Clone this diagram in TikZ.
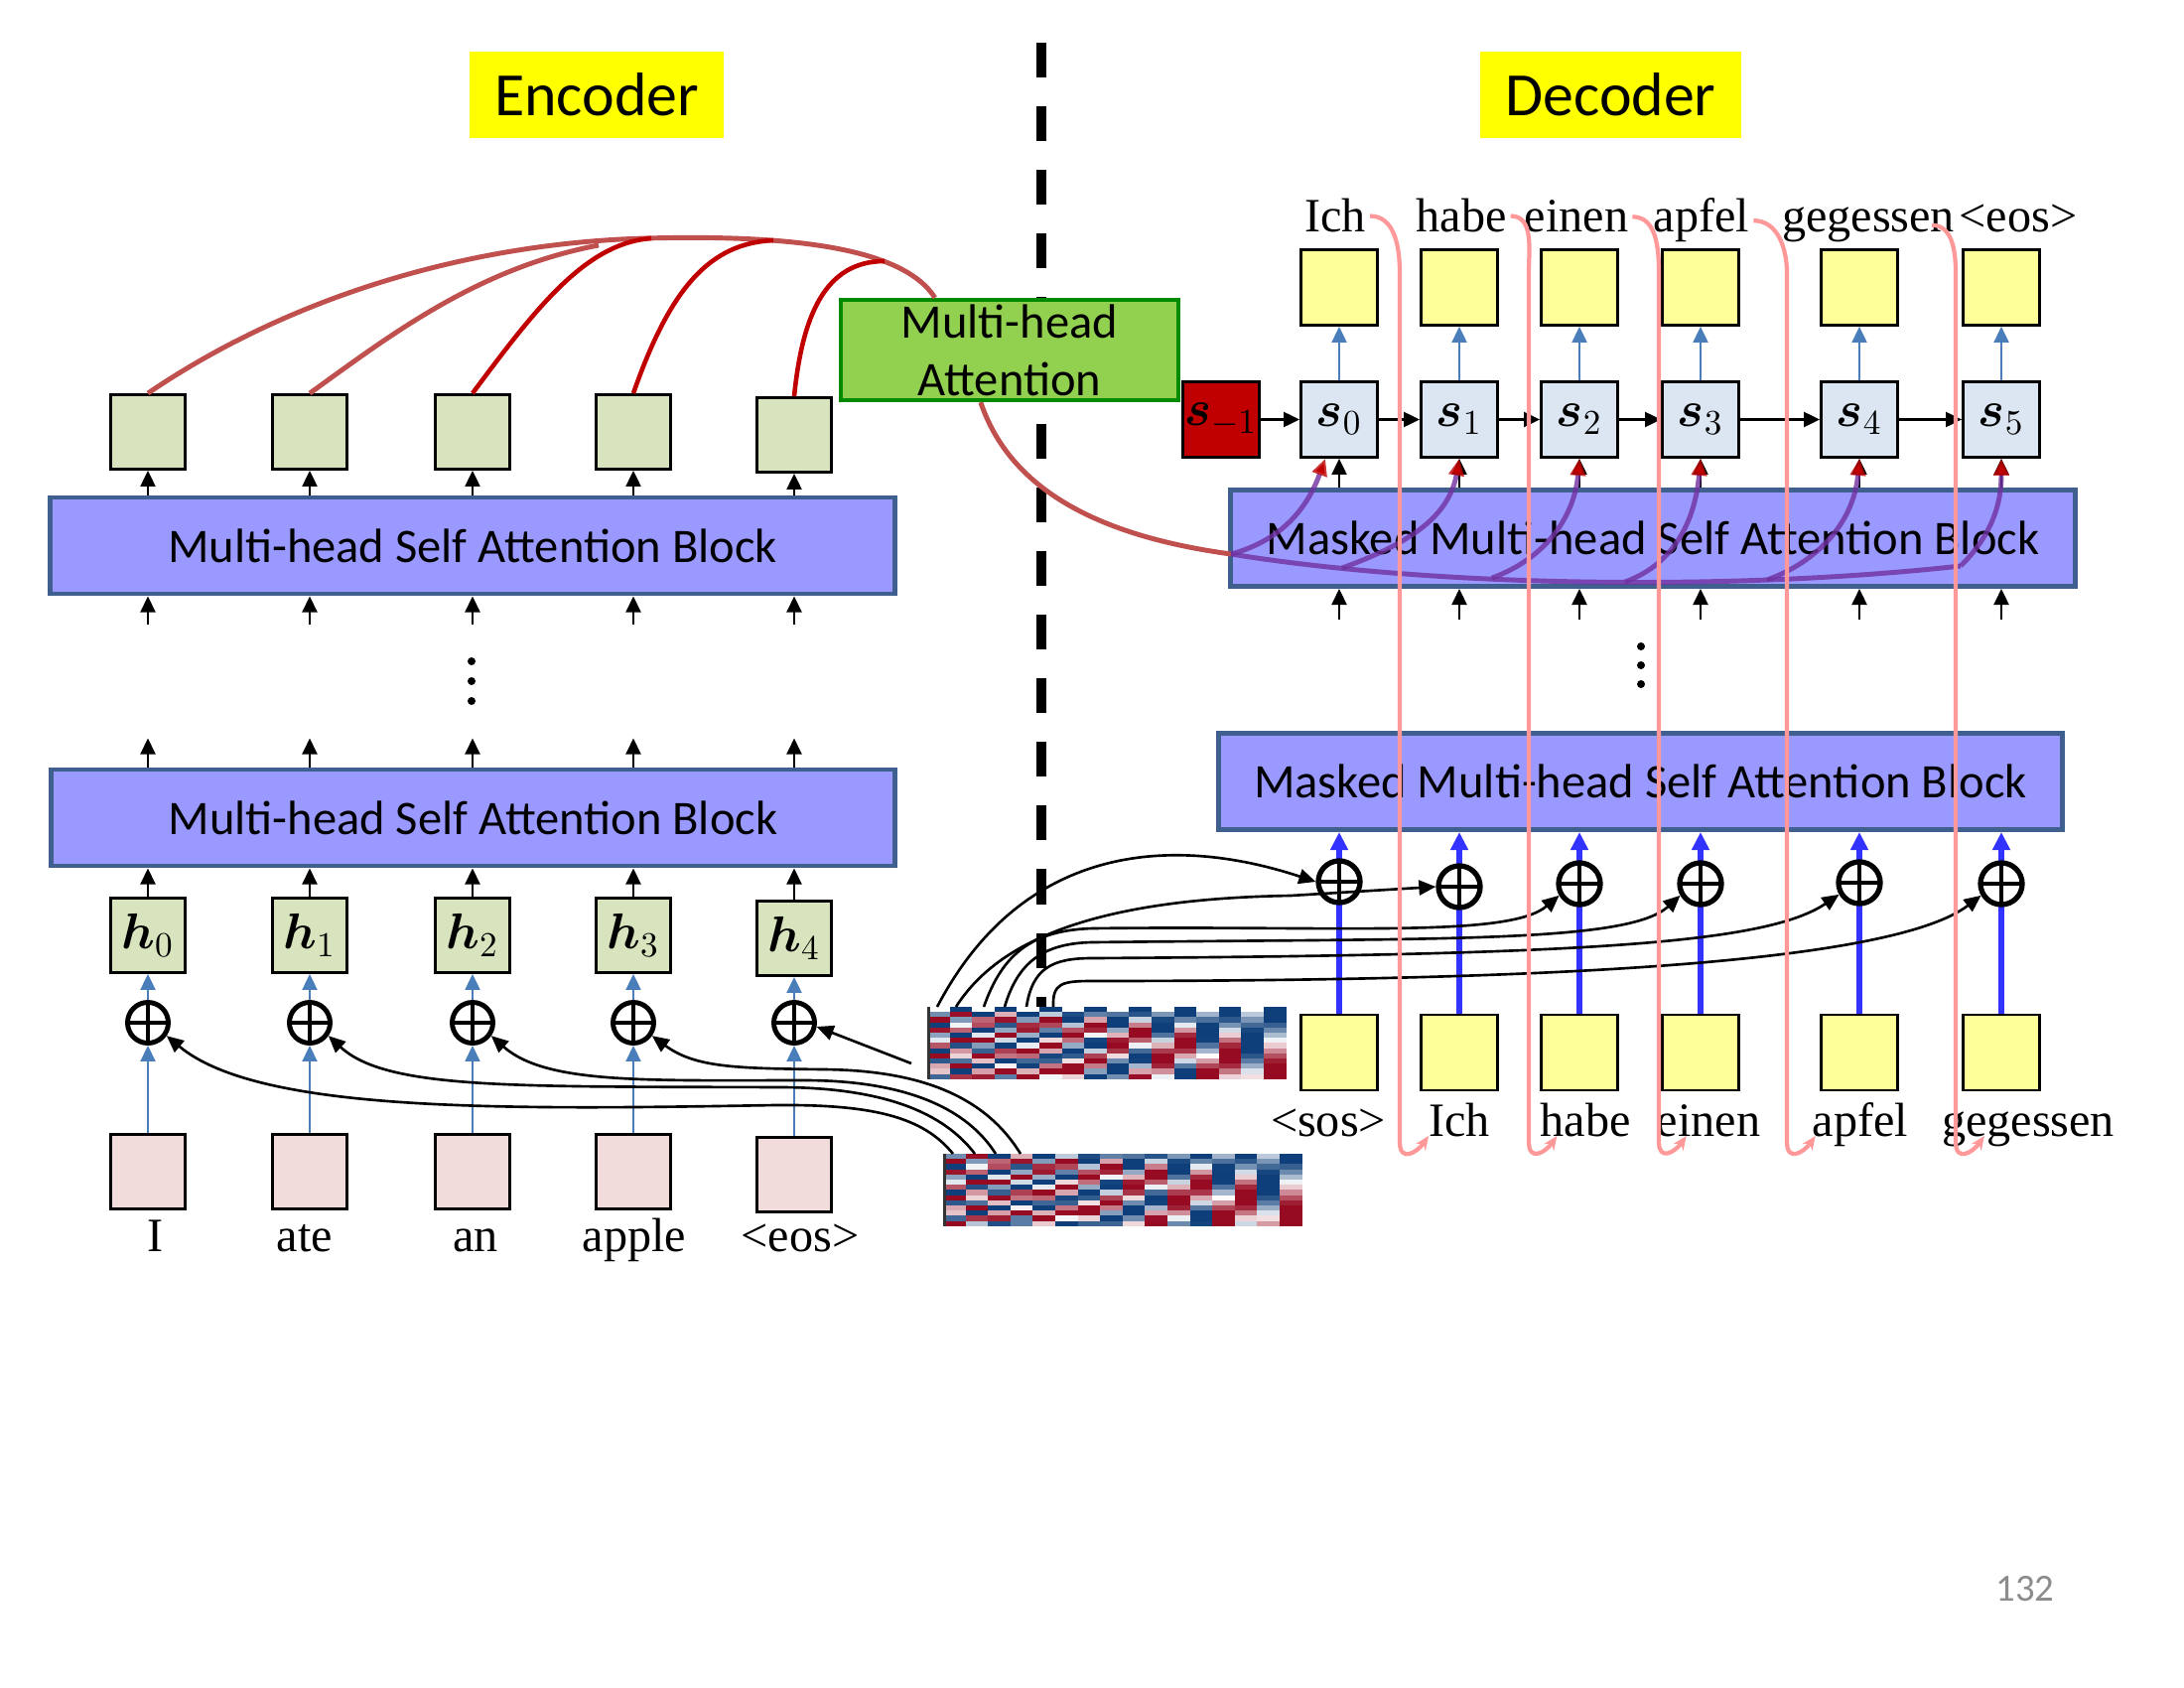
\documentclass[tikz,border=0pt]{standalone}
\usepackage{amsmath}
\usepackage{fontspec}
\usepackage{tikz}
\usepackage{xcolor}
\usetikzlibrary{arrows.meta}
\setmainfont{Liberation Serif}
\newfontfamily\calibri{Carlito}

\definecolor{titleyellow}{HTML}{FFFF00}
\definecolor{blockfill}{HTML}{9999FF}
\definecolor{blockline}{HTML}{3F5F8F}
\definecolor{encgreen}{HTML}{D7E4BD}
\definecolor{wordpink}{HTML}{F2DCDB}
\definecolor{decyellow}{HTML}{FFFF99}
\definecolor{stateblue}{HTML}{DCE6F2}
\definecolor{statered}{HTML}{C00000}
\definecolor{mhafill}{HTML}{92D050}
\definecolor{mhaline}{HTML}{008A00}
\definecolor{arcred}{HTML}{C0504D}
\definecolor{brightred}{HTML}{C00000}
\definecolor{arcpurple}{HTML}{7030A0}
\definecolor{arrowblue}{HTML}{4A7EBB}
\definecolor{pushblue}{HTML}{3333FF}
\definecolor{hookpink}{HTML}{FF9999}
\definecolor{pered}{HTML}{960A22}
\definecolor{peblue}{HTML}{0E3F7A}
\definecolor{pagegray}{HTML}{8C8C8C}

\begin{document}
\begin{tikzpicture}[x=0.01cm, y=0.01cm,
  title/.style={fill=titleyellow, minimum width=2.56cm, minimum height=0.87cm, font=\calibri\fontsize{17.6}{20}\selectfont},
  block/.style={draw=blockline, line width=1.4pt, fill=blockfill, minimum width=8.5cm, minimum height=0.97cm, font=\calibri\fontsize{13.8}{16}\selectfont},
  mhabox/.style={draw=mhaline, line width=1.2pt, fill=mhafill, minimum width=3.4cm, minimum height=1.01cm, inner sep=0pt, align=center, font=\calibri\fontsize{13.8}{16.5}\selectfont},
  encbox/.style={draw, line width=0.8pt, fill=encgreen, minimum width=0.75cm, minimum height=0.75cm, inner sep=0pt, font=\fontsize{14}{16}\selectfont},
  wordbox/.style={encbox, fill=wordpink},
  decbox/.style={draw, line width=0.8pt, fill=decyellow, minimum width=0.77cm, minimum height=0.76cm, inner sep=0pt, font=\fontsize{14}{16}\selectfont},
  statebox/.style={decbox, fill=stateblue},
  oplus/.style={circle, draw, fill=white, line width=1.4pt, minimum size=0.41cm, inner sep=0pt,
    path picture={\draw[line width=1.1pt] (path picture bounding box.north) -- (path picture bounding box.south) (path picture bounding box.west) -- (path picture bounding box.east);}},
  oplusd/.style={oplus, minimum size=0.42cm, line width=1.5pt},
  word/.style={anchor=base, inner sep=1pt, font=\fontsize{13.7}{16}\selectfont},
  divider/.style={line width=2.6pt, dash pattern=on 0.35cm off 0.29cm},
  arr/.style={-{Triangle[length=0.16cm,width=0.15cm]}, line width=0.6pt},
  thinblue/.style={-{Triangle[length=0.16cm,width=0.15cm]}, draw=arrowblue, line width=0.6pt},
  pushline/.style={-{Triangle[length=0.18cm,width=0.17cm]}, draw=pushblue, line width=1.8pt},
  curvearr/.style={-{Triangle[length=0.17cm,width=0.15cm]}, line width=0.75pt},
  arcline/.style={draw=arcred, line width=1.4pt},
  hotline/.style={draw=brightred, line width=1.3pt},
  trunk/.style={draw=arcpurple, draw opacity=0.8, line width=1.4pt},
  branch/.style={trunk, -{Triangle[length=0.17cm,width=0.15cm,color=brightred]}},
  pinkarr/.style={draw=hookpink, line width=1.2pt, -{Stealth[length=0.14cm,width=0.12cm]}}]

\useasboundingbox (0,0) rectangle (2200,-1700);

% dividing line
\coordinate (dtop) at (1049,-43);
\coordinate (dbot) at (1049,-1015);
\draw[divider] (dtop) -- (dbot);

\node (enct) at (601,-95.5) [title]{Encoder};
\node (dect) at (1622.5,-95.5) [title, minimum width=2.63cm]{Decoder};

\node (mha) at (1017,-352.5) [mhabox]{Multi-head\\Attention};

% encoder
\node (eb1) at (476.5,-823.5) [block]{Multi-head Self Attention Block};
\node (eb2) at (476,-549.5) [block]{Multi-head Self Attention Block};

\node (x0) at (149,-1180) [wordbox]{};
\node (x1) at (312,-1180) [wordbox]{};
\node (x2) at (476,-1180) [wordbox]{};
\node (x3) at (638,-1180) [wordbox]{};
\node (x4) at (800,-1183) [wordbox]{};

\node (eo0) at (149,-1030) [oplus]{};
\node (eo1) at (312,-1030) [oplus]{};
\node (eo2) at (476,-1030) [oplus]{};
\node (eo3) at (638,-1030) [oplus]{};
\node (eo4) at (800,-1030) [oplus]{};

\node (h0) at (149,-942) [encbox]{$\boldsymbol{h}_0$};
\node (h1) at (312,-942) [encbox]{$\boldsymbol{h}_1$};
\node (h2) at (476,-942) [encbox]{$\boldsymbol{h}_2$};
\node (h3) at (638,-942) [encbox]{$\boldsymbol{h}_3$};
\node (h4) at (800,-945) [encbox]{$\boldsymbol{h}_4$};

\node (t0) at (149,-435) [encbox]{};
\node (t1) at (312,-435) [encbox]{};
\node (t2) at (476,-435) [encbox]{};
\node (t3) at (638,-435) [encbox]{};
\node (t4) at (800,-438) [encbox]{};

\node (w0) at (157,-1260) [word]{I};
\node (w1) at (307,-1260) [word]{ate};
\node (w2) at (479,-1260) [word]{an};
\node (w3) at (639,-1260) [word]{apple};
\node (w4) at (806,-1260) [word]{<eos>};

\draw[thinblue] (x0) -- (eo0);
\draw[thinblue] (x1) -- (eo1);
\draw[thinblue] (x2) -- (eo2);
\draw[thinblue] (x3) -- (eo3);
\draw[thinblue] (x4) -- (eo4);
\draw[thinblue] (eo0) -- (h0);
\draw[thinblue] (eo1) -- (h1);
\draw[thinblue] (eo2) -- (h2);
\draw[thinblue] (eo3) -- (h3);
\draw[thinblue] (eo4) -- (h4);

\draw[arr] (h0) -- (h0 |- eb1.south);
\draw[arr] (h1) -- (h1 |- eb1.south);
\draw[arr] (h2) -- (h2 |- eb1.south);
\draw[arr] (h3) -- (h3 |- eb1.south);
\draw[arr] (h4) -- (h4 |- eb1.south);

\draw[arr] (eb1.north -| h0) -- ++(0,29);
\draw[arr] (eb1.north -| h1) -- ++(0,29);
\draw[arr] (eb1.north -| h2) -- ++(0,29);
\draw[arr] (eb1.north -| h3) -- ++(0,29);
\draw[arr] (eb1.north -| h4) -- ++(0,29);

\fill (475,-666) circle (4);
\fill (475,-686) circle (4);
\fill (475,-706) circle (4);

\draw[arr] (eb2.south -| t0) ++(0,-29) -- (eb2.south -| t0);
\draw[arr] (eb2.south -| t1) ++(0,-29) -- (eb2.south -| t1);
\draw[arr] (eb2.south -| t2) ++(0,-29) -- (eb2.south -| t2);
\draw[arr] (eb2.south -| t3) ++(0,-29) -- (eb2.south -| t3);
\draw[arr] (eb2.south -| t4) ++(0,-29) -- (eb2.south -| t4);

\draw[arr] (eb2.north -| t0) -- (t0);
\draw[arr] (eb2.north -| t1) -- (t1);
\draw[arr] (eb2.north -| t2) -- (t2);
\draw[arr] (eb2.north -| t3) -- (t3);
\draw[arr] (eb2.north -| t4) -- (t4);

% encoder outputs into the attention box
\coordinate (j1) at (603,-247);
\coordinate (j2) at (656,-240);
\coordinate (j3) at (779,-242);
\coordinate (j4) at (891,-263);
\draw[arcline] (t0.north) .. controls (290,-300) and (470,-245) .. (650,-240) .. controls (800,-236) and (910,-250) .. (mha.145);
\draw[arcline] (t1.north) .. controls (390,-340) and (480,-270) .. (j1);
\draw[hotline] (t2.north) .. controls (540,-310) and (590,-245) .. (j2);
\draw[hotline] (t3.north) .. controls (675,-290) and (715,-245) .. (j3);
\draw[hotline] (t4.north) .. controls (808,-320) and (830,-263) .. (j4);

% decoder
\node (db1) at (1652.5,-787) [block]{Masked Multi-head Self Attention Block};
\node (db2) at (1665,-542) [block]{Masked Multi-head Self Attention Block};

\node (y0) at (1349,-1060) [decbox]{};
\node (y1) at (1470,-1060) [decbox]{};
\node (y2) at (1591,-1060) [decbox]{};
\node (y3) at (1713,-1060) [decbox]{};
\node (y4) at (1873,-1060) [decbox]{};
\node (y5) at (2016,-1060) [decbox]{};

\draw[pushline] (y0) -- (y0 |- db1.south);
\draw[pushline] (y1) -- (y1 |- db1.south);
\draw[pushline] (y2) -- (y2 |- db1.south);
\draw[pushline] (y3) -- (y3 |- db1.south);
\draw[pushline] (y4) -- (y4 |- db1.south);
\draw[pushline] (y5) -- (y5 |- db1.south);

\node (do0) at (1349,-888) [oplusd]{};
\node (do1) at (1470,-893) [oplusd]{};
\node (do2) at (1591,-890) [oplusd]{};
\node (do3) at (1713,-890) [oplusd]{};
\node (do4) at (1873,-889) [oplusd]{};
\node (do5) at (2016,-890) [oplusd]{};

\node (sm) at (1230,-422.5) [statebox, fill=statered]{$\boldsymbol{s}_{-1}$};
\node (s0) at (1349,-422.5) [statebox]{$\boldsymbol{s}_0$};
\node (s1) at (1470,-422.5) [statebox]{$\boldsymbol{s}_1$};
\node (s2) at (1591,-422.5) [statebox]{$\boldsymbol{s}_2$};
\node (s3) at (1713,-422.5) [statebox]{$\boldsymbol{s}_3$};
\node (s4) at (1873,-422.5) [statebox]{$\boldsymbol{s}_4$};
\node (s5) at (2016,-422.5) [statebox]{$\boldsymbol{s}_5$};

\node (o0) at (1349,-289.5) [decbox]{};
\node (o1) at (1470,-289.5) [decbox]{};
\node (o2) at (1591,-289.5) [decbox]{};
\node (o3) at (1713,-289.5) [decbox]{};
\node (o4) at (1873,-289.5) [decbox]{};
\node (o5) at (2016,-289.5) [decbox]{};

\node (tl0) at (1345,-234) [word]{Ich};
\node (tl1) at (1472,-234) [word]{habe};
\node (tl2) at (1588,-234) [word]{einen};
\node (tl3) at (1714,-234) [word]{apfel};
\node (tl4) at (1882,-234) [word]{gegessen};
\node (tl5) at (2033,-234) [word]{<eos>};

\node (bl0) at (1338,-1144) [word]{<sos>};
\node (bl1) at (1470,-1144) [word]{Ich};
\node (bl2) at (1597,-1144) [word]{habe};
\node (bl3) at (1721,-1144) [word]{einen};
\node (bl4) at (1874,-1144) [word]{apfel};
\node (bl5) at (2043,-1144) [word]{gegessen};

\fill (1653,-651) circle (4);
\fill (1653,-670) circle (4);
\fill (1653,-689) circle (4);

\draw[arr] (db2.south -| s0) ++(0,-31) -- (db2.south -| s0);
\draw[arr] (db2.south -| s1) ++(0,-31) -- (db2.south -| s1);
\draw[arr] (db2.south -| s2) ++(0,-31) -- (db2.south -| s2);
\draw[arr] (db2.south -| s3) ++(0,-31) -- (db2.south -| s3);
\draw[arr] (db2.south -| s4) ++(0,-31) -- (db2.south -| s4);
\draw[arr] (db2.south -| s5) ++(0,-31) -- (db2.south -| s5);

\draw[arr] (db2.north -| s0) -- (s0);
\draw[arr] (db2.north -| s1) -- (s1);
\draw[arr] (db2.north -| s2) -- (s2);
\draw[arr] (db2.north -| s3) -- (s3);
\draw[arr] (db2.north -| s4) -- (s4);
\draw[arr] (db2.north -| s5) -- (s5);

\draw[thinblue] (s0) -- (o0);
\draw[thinblue] (s1) -- (o1);
\draw[thinblue] (s2) -- (o2);
\draw[thinblue] (s3) -- (o3);
\draw[thinblue] (s4) -- (o4);
\draw[thinblue] (s5) -- (o5);

\draw[arr] (sm) -- (s0);
\draw[arr] (s0) -- (s1);
\draw[arr] (s1) -- (s2);
\draw[arr] (s2) -- (s3);
\draw[arr] (s3) -- (s4);
\draw[arr] (s4) -- (s5);

% position encodings
\foreach \ix/\iy/\ph in {934/1014/0, 950/1162/1}{
  \foreach \c in {0,...,15}{
    \foreach \r in {0,...,13}{
      \pgfmathsetmacro\pv{sin(deg((\r+\ph)*2.6*0.716^(floor(\c/2))) + 90*mod(\c,2))}
      \pgfmathtruncatemacro\pp{min(100,abs(\pv)*115)}
      \ifdim\pv pt<0pt \def\pc{pered}\else\def\pc{peblue}\fi
      \fill[\pc!\pp!white] (\ix+22.6*\c,-\iy-5.2*\r) rectangle ++(23.1,-5.7);
    }
  }
  \fill[black!80] (\ix,-\iy) rectangle ++(3,-73);
}

\coordinate (pu0) at (944,-1014);
\coordinate (pu1) at (963,-1014);
\coordinate (pu2) at (991,-1014);
\coordinate (pu3) at (1012,-1014);
\coordinate (pu4) at (1034,-1014);
\coordinate (pu5) at (1061,-1014);
\coordinate (pl0) at (960,-1162);
\coordinate (pl1) at (982,-1162);
\coordinate (pl2) at (1003,-1162);
\coordinate (pl3) at (1028,-1162);
\coordinate (pe4) at (918,-1071);

\draw[curvearr] (pu0) .. controls (1030,-850) and (1180,-840) .. (do0.west);
\draw[curvearr] (pu1) .. controls (1010,-940) and (1120,-905) .. (1300,-902) -- (do1.west);
\draw[curvearr] (pu2) .. controls (1010,-960) and (1040,-937) .. (1100,-935) .. controls (1350,-932) and (1520,-945) .. (do2.210);
\draw[curvearr] (pu3) .. controls (1025,-970) and (1050,-950) .. (1100,-949) .. controls (1450,-945) and (1640,-950) .. (do3.210);
\draw[curvearr] (pu4) .. controls (1040,-975) and (1060,-965) .. (1100,-965) .. controls (1600,-962) and (1780,-950) .. (do4.210);
\draw[curvearr] (pu5) .. controls (1060,-990) and (1070,-988) .. (1100,-988) .. controls (1500,-988) and (1900,-975) .. (do5.210);

\draw[curvearr] (pl0) .. controls (930,-1125) and (880,-1112) .. (780,-1113) .. controls (500,-1118) and (260,-1120) .. (eo0.-35);
\draw[curvearr] (pl1) .. controls (950,-1120) and (890,-1096) .. (790,-1095) .. controls (520,-1094) and (390,-1098) .. (eo1.-35);
\draw[curvearr] (pl2) .. controls (970,-1110) and (900,-1088) .. (810,-1088) .. controls (650,-1088) and (550,-1092) .. (eo2.-35);
\draw[curvearr] (pl3) .. controls (990,-1100) and (920,-1078) .. (830,-1077) .. controls (740,-1076) and (700,-1075) .. (eo3.-35);
\draw[curvearr] (pe4) -- (eo4.-10);

% attention into the decoder states
\coordinate (pj0) at (1240,-558);
\coordinate (pj1) at (1352,-572);
\coordinate (pj2) at (1503,-582);
\coordinate (pj3) at (1637,-586);
\coordinate (pj4) at (1780,-584);
\coordinate (pj5) at (1975,-570);
\draw[arcline] (mha.241) .. controls (1010,-470) and (1070,-535) .. (pj0);
\draw[trunk] (pj0) .. controls (1450,-592) and (1750,-595) .. (pj5);
\draw[branch] (pj0) to[out=15,in=-110] ([xshift=-0.14cm]s0.south);
\draw[branch] (pj1) to[out=20,in=-100] (s1.south);
\draw[branch] (pj2) to[out=20,in=-95] (s2.south);
\draw[branch] (pj3) to[out=20,in=-95] (s3.south);
\draw[branch] (pj4) to[out=20,in=-95] (s4.south);
\draw[branch] (pj5) to[out=45,in=-90] (s5.south);

% outputs fed back as inputs
\draw[pinkarr] (tl0.east) to[out=0,in=90] (1410,-275) -- (1410,-1150) to[out=-90,in=-125,looseness=1.8] ([xshift=0.04cm]bl1.base west);
\draw[pinkarr] (tl1.east) to[out=0,in=90] (1540,-275) -- (1540,-1150) to[out=-90,in=-125,looseness=1.8] ([xshift=0.21cm]bl2.base west);
\draw[pinkarr] (tl2.east) to[out=0,in=90] (1671,-275) -- (1671,-1150) to[out=-90,in=-125,looseness=1.8] ([xshift=0.34cm]bl3.base west);
\draw[pinkarr] (tl3.east) to[out=0,in=90] (1800,-275) -- (1800,-1150) to[out=-90,in=-125,looseness=1.8] ([xshift=0.07cm]bl4.base west);
\draw[pinkarr] ([xshift=-0.27cm]tl4.east) to[out=0,in=90] (1970,-275) -- (1970,-1150) to[out=-90,in=-125,looseness=1.8] ([xshift=0.47cm]bl5.base west);

\node (pgno) at (2040,-1600) [font=\calibri\fontsize{11}{13}\selectfont, text=pagegray]{132};
\end{tikzpicture}
\end{document}
